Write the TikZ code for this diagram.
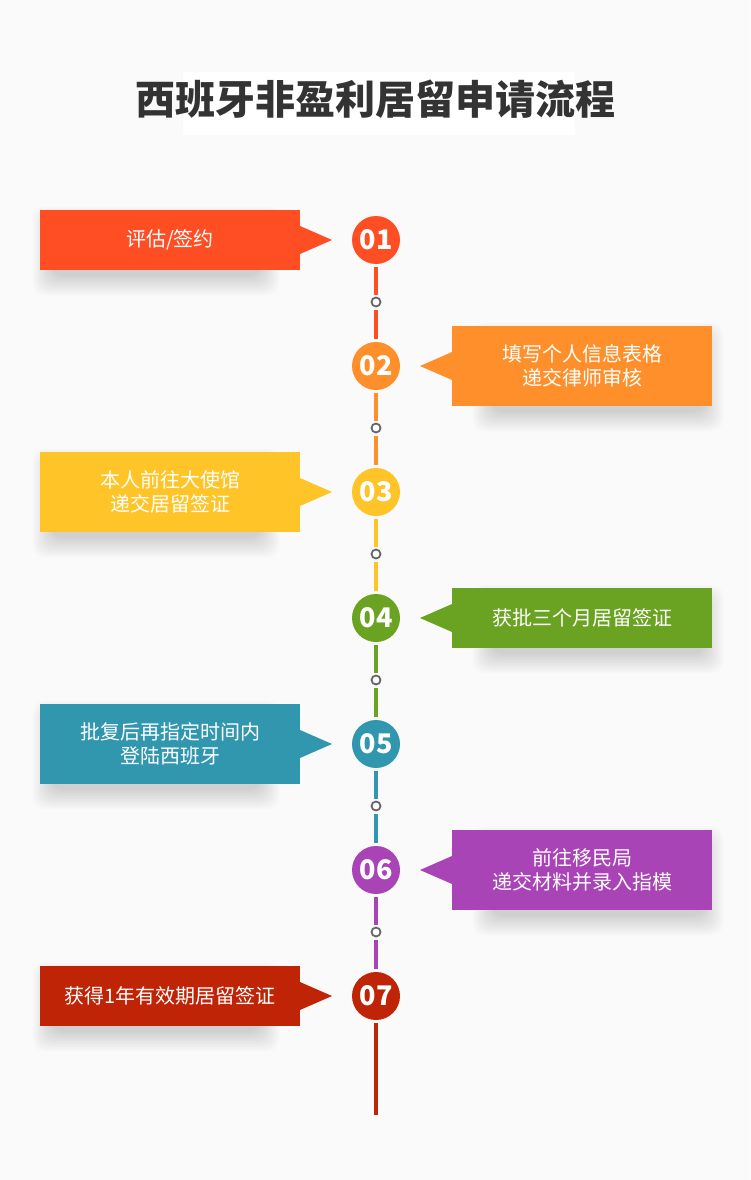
\documentclass[tikz,border=0pt]{standalone}
\usepackage{fontspec}
\setmainfont{Noto Sans CJK SC}
\usepackage{tikz}
\usetikzlibrary{positioning,calc,backgrounds}
\definecolor{bgc}{HTML}{FAFAFA}
\definecolor{titlec}{HTML}{333333}
\definecolor{dotc}{HTML}{666666}
\definecolor{step1}{HTML}{FF4D24}
\definecolor{step2}{HTML}{FF8F2A}
\definecolor{step3}{HTML}{FFC427}
\definecolor{step4}{HTML}{6AA221}
\definecolor{step5}{HTML}{3197AF}
\definecolor{step6}{HTML}{A944B7}
\definecolor{step7}{HTML}{BF2406}
\tikzset{
  stepbox/.style={rectangle, minimum width=260pt, inner sep=0pt, outer sep=0pt,
    text=white, align=center, font=\fontsize{20}{24}\selectfont},
  numdot/.style={circle, minimum size=48pt, inner sep=0pt, outer sep=3pt,
    text=white, font=\fontsize{27}{27}\selectfont\bfseries},
  smalldot/.style={circle, draw=dotc, fill=white, line width=1.8pt,
    minimum size=9pt, inner sep=0pt, outer sep=3pt},
  spine/.style={line width=4pt},
  softshade/.style={black, opacity=0.011, rounded corners=12pt},
}

\begin{document}
\begin{tikzpicture}[x=1pt, y=-1pt]
  \begin{scope}[on background layer]
    \fill[bgc] (0,0) rectangle (750,1180);
  \end{scope}
  \useasboundingbox (0,0) rectangle (750,1180);
  % title
  \node[fill=white, minimum width=392pt, minimum height=63pt] (tbg) at (379,103.5) {};
  \node[font=\fontsize{40}{40}\selectfont\bfseries, text=titlec] (title) at (375,99)
    {西班牙非盈利居留申请流程};
  % steps: number, box and pointer
  \foreach \i/\h/\txt in {1/60/{评估/签约},
      2/80/{填写个人信息表格\\递交律师审核},
      3/80/{本人前往大使馆\\递交居留签证},
      4/60/{获批三个月居留签证},
      5/80/{批复后再指定时间内\\登陆西班牙},
      6/80/{前往移民局\\递交材料并录入指模},
      7/60/{获得1年有效期居留签证}} {
    \pgfmathsetmacro{\y}{240+126*(\i-1)}
    \node[numdot, fill=step\i] (c\i) at (376,\y) {0\i};
    \ifodd\i
      \node[stepbox, fill=step\i, minimum height=\h pt] (b\i) at (170,\y) {\txt};
      \fill[step\i] (b\i.east) ++(0,-14) -- ++(32,14) -- ++(-32,14) -- cycle;
      \begin{scope}[on background layer]
        \foreach \k in {0,...,13}
          \fill[softshade] ($(b\i.north west)+(12-1.5*\k,16-1.5*\k)$)
            rectangle ($(b\i.south east)+(-40+1.5*\k,6+1.5*\k)$);
      \end{scope}
    \else
      \node[stepbox, fill=step\i, minimum height=\h pt] (b\i) at (582,\y) {\txt};
      \fill[step\i] (b\i.west) ++(0,-14) -- ++(-32,14) -- ++(32,14) -- cycle;
      \begin{scope}[on background layer]
        \foreach \k in {0,...,13}
          \fill[softshade] ($(b\i.north west)+(40-1.5*\k,16-1.5*\k)$)
            rectangle ($(b\i.south east)+(-8+1.5*\k,6+1.5*\k)$);
      \end{scope}
    \fi
  }
  % time line
  \foreach \i in {1,...,6} {
    \pgfmathtruncatemacro{\j}{\i+1}
    \pgfmathsetmacro{\yd}{240+126*(\i-1)+62}
    \node[smalldot] (d\i) at (376,\yd) {};
    \draw[spine, step\i] (c\i) -- (d\i);
    \draw[spine, step\i] (d\i) -- (c\j);
  }
  \coordinate (tail) at (376,1115);
  \draw[spine, step7] (c7) -- (tail);
\end{tikzpicture}
\end{document}
